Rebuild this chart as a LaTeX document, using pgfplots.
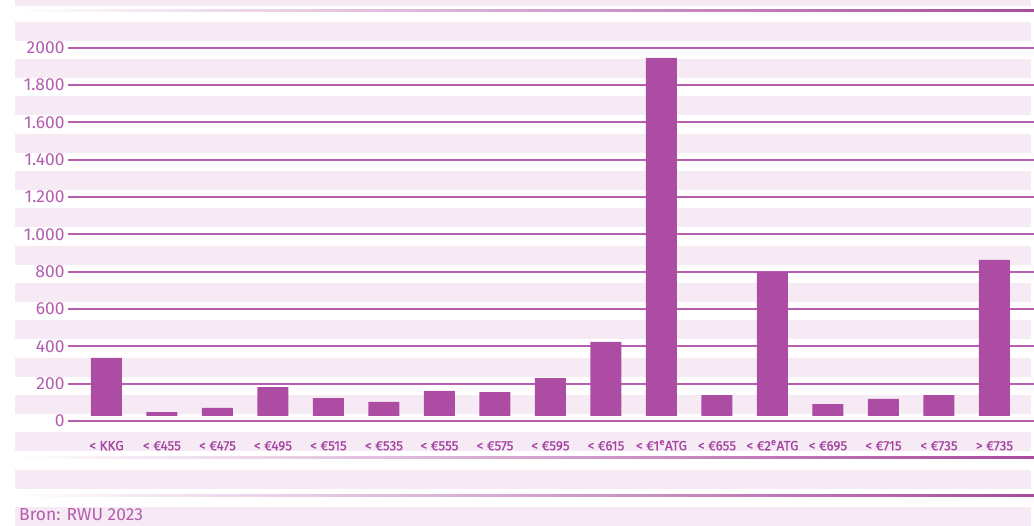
\documentclass[border=0pt]{standalone}
\usepackage{fontspec}
\setmainfont{Fira Sans}
\newfontfamily\labelfont{Fira Sans}[FakeBold=0.6]
\usepackage{pgfplots}
\pgfplotsset{compat=1.18}

\definecolor{barfill}{HTML}{AD4CA3}
\definecolor{stripe}{HTML}{F6EBF5}
\definecolor{gridline}{HTML}{B95FB1}
\definecolor{ticktext}{HTML}{B45CAE}
\definecolor{labeltext}{HTML}{A444A0}
\definecolor{rulecolor}{HTML}{A94B9E}

\begin{document}
\begin{tikzpicture}[x=1pt,y=1pt]
\useasboundingbox (0,0) rectangle (1034,526);

% alternating row shading
\fill[stripe] (15,520.3) rectangle (1031,526);
\foreach \k in {0,...,13} {
  \pgfmathsetmacro\rowtop{526-21.7-37.33*\k}
  \fill[stripe] (15,\rowtop-19) rectangle (1031,\rowtop);
}

% fading separator rules
\foreach \yy in {515,68,30} {
  \shade[left color=white, right color=rulecolor] (15,\yy-1) rectangle (1034,\yy+1);
}

% source line
\node[anchor=base west, inner sep=0, text=ticktext,
      font=\fontsize{17.4}{20}\selectfont] at (19,5) {Bron: RWU 2023};

\begin{axis}[
  at={(68pt,105pt)}, anchor=south west,
  scale only axis, width=966pt, height=421pt,
  xmin=-0.6937, xmax=16.712, ymin=0, ymax=2255.6,
  clip=false,
  ybar, bar width=31pt,
  axis line style={draw=none}, tick style={draw=none},
  /pgf/number format/assume math mode=true,
  ytick={0,200,...,2000},
  yticklabels={0,200,400,600,800,1.000,1.200,1.400,1.600,1.800,2000},
  ymajorgrids, grid style={gridline, line width=1.8pt},
  xtick={0,...,16},
  xticklabels={< KKG, < €455, < €475, < €495, < €515, < €535, < €555,
    < €575, < €595, < €615, < €1\textsuperscript{e}ATG, < €655,
    < €2\textsuperscript{e}ATG, < €695, < €715, < €735, > €735},
  xticklabel style={anchor=base, yshift=-25pt, text=labeltext,
    font=\labelfont\fontsize{13.4}{15}\selectfont},
  yticklabel style={text=ticktext, font=\fontsize{17.4}{20}\selectfont},
]
\addplot[fill=barfill, draw=none] coordinates {
  (0,338) (1,48) (2,70) (3,182) (4,123) (5,102) (6,161) (7,155) (8,230)
  (9,424) (10,1946) (11,139) (12,799) (13,91) (14,118) (15,139) (16,863)
};
% bars rest slightly above the zero rule
\fill[white] (axis cs:-0.6,-12) rectangle (axis cs:16.6,27);
\draw[gridline, line width=1.8pt] (axis cs:-0.6937,0) -- (axis cs:16.712,0);
\end{axis}
\end{tikzpicture}
\end{document}
